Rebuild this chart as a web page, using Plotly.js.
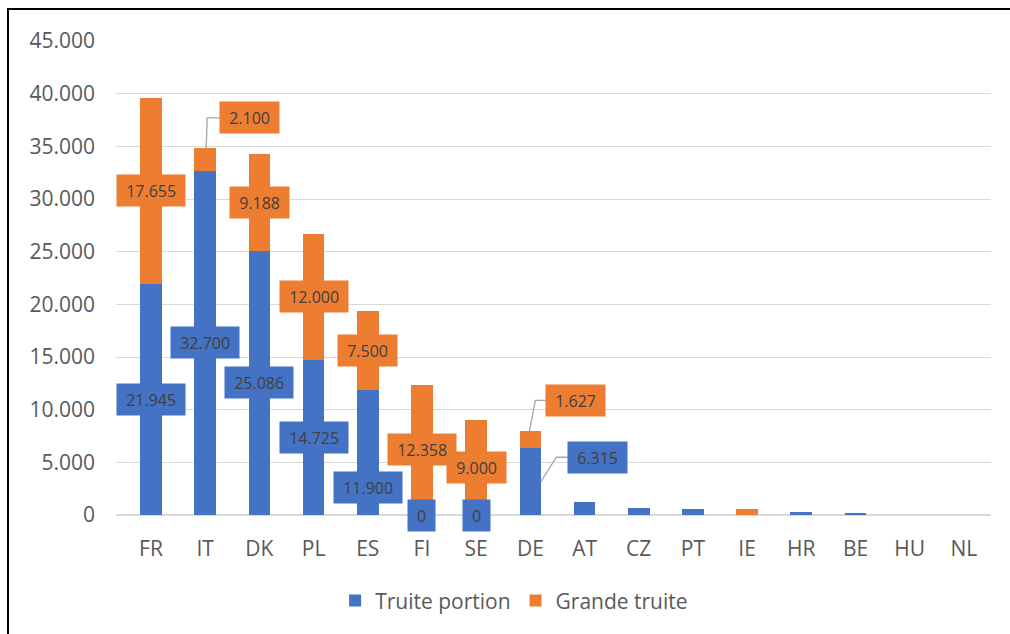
<!DOCTYPE html>
<html>
<head>
<meta charset="utf-8">
<script src="https://cdn.plot.ly/plotly-3.0.1.min.js"></script>
<style>
  html, body { margin: 0; padding: 0; background: #fff; }
  #frame { position: absolute; left: 7px; top: 8px; width: 1100px; height: 700px; border-left: 2px solid #000; border-top: 2px solid #000; pointer-events: none; }
  #chart { position: absolute; left: 0; top: 0; width: 1010px; height: 634px; }
</style>
</head>
<body>
<div id="chart"></div>
<div id="frame"></div>
<script>
// ---- data ----
const countries = ['FR','IT','DK','PL','ES','FI','SE','DE','AT','CZ','PT','IE','HR','BE','HU','NL'];
const truitePortion = [21945, 32700, 25086, 14725, 11900, 0, 0, 6315, 1200, 630, 600, 0, 250, 150, 20, 10];
const grandeTruite  = [17655, 2100, 9188, 12000, 7500, 12358, 9000, 1627, 0, 0, 0, 550, 0, 0, 0, 0];
const labelledCount = 8; // first 8 countries carry data labels

const BLUE = '#4472C4', ORANGE = '#ED7D31', TXT = '#404040';
const FONT = 'Open Sans, Noto Sans, Liberation Sans, sans-serif';
const LABEL_SIZE = 16;

function fmt(v) {
  return Math.round(v).toString().replace(/\B(?=(\d{3})+(?!\d))/g, '.');
}
function textW(s) { // approx width in Open Sans
  let w = 0;
  for (const c of s) w += (c === '.') ? 0.27 : 0.575;
  return w * LABEL_SIZE;
}

const traces = [
  { type: 'bar', name: 'Truite portion', x: countries, y: truitePortion, marker: { color: BLUE }, hoverinfo: 'x+y' },
  { type: 'bar', name: 'Grande truite', x: countries, y: grandeTruite, marker: { color: ORANGE }, hoverinfo: 'x+y' }
];

// label placement rules (pixel offsets) for labels moved away from their default spot
const offsetLabels = {
  'IT|g': { dx: 44, dy: 30.5, path: 'M1,0 L2,30.5 L15,30.5' },
  'DE|g': { dx: 45.5, dy: 31, path: 'M-1,0 L5,31 L16,31' },
  'DE|p': { dx: 67.5, dy: 24.5, path: 'M10.5,0 L26,24.5 L37.5,24.5' },
  'ES|p': { dx: 0, dy: -35, path: null }
};

const annotations = [];
const shapes = [];
function addLabel(cat, yAnchor, yCenter, value, color, key) {
  const txt = fmt(value);
  const off = offsetLabels[key];
  const useAnchor = off && off.path;
  const ann = {
    x: cat, y: useAnchor ? yAnchor : yCenter, xref: 'x', yref: 'y',
    text: txt, showarrow: false,
    font: { family: FONT, size: LABEL_SIZE, color: TXT },
    bgcolor: color, borderpad: 4,
    width: textW(txt) + 10, height: 23,
    xanchor: 'center', yanchor: 'middle'
  };
  if (off) { ann.xshift = off.dx; ann.yshift = off.dy; }
  annotations.push(ann);
  if (useAnchor) {
    shapes.push({
      type: 'path', xref: 'x', yref: 'y', xsizemode: 'pixel', ysizemode: 'pixel',
      xanchor: cat, yanchor: yAnchor, path: off.path,
      line: { color: '#a6a6a6', width: 1.3 }, layer: 'above'
    });
  }
}
// drawn from right to left so that left-hand labels sit on top where boxes touch
for (let i = labelledCount - 1; i >= 0; i--) {
  const c = countries[i], p = truitePortion[i], g = grandeTruite[i];
  addLabel(c, p / 2, p / 2, p, BLUE, c + '|p');
  addLabel(c, p + g, p + g / 2, g, ORANGE, c + '|g');
}

const layout = {
  width: 1010, height: 634,
  margin: { l: 116, r: 19, t: 41, b: 119 },
  paper_bgcolor: '#ffffff', plot_bgcolor: '#ffffff',
  barmode: 'stack', bargap: 0.6,
  separators: ',.',
  font: { family: FONT, size: 21, color: '#595959' },
  xaxis: {
    type: 'category', showgrid: false, ticks: '', showline: false, zeroline: false,
    ticklabelstandoff: 19,
    tickfont: { family: FONT, size: 21, color: '#595959' }
  },
  yaxis: {
    range: [0, 45000], dtick: 5000, tickformat: ',d',
    showgrid: true, gridcolor: '#d9d9d9', gridwidth: 1,
    zeroline: true, zerolinecolor: '#d9d9d9', zerolinewidth: 2,
    showline: false, ticks: '', ticklabelstandoff: 20,
    tickfont: { family: FONT, size: 21, color: '#595959' }
  },
  showlegend: true,
  legend: {
    orientation: 'h', x: 0.455, xanchor: 'center', y: -0.181, yanchor: 'middle',
    font: { family: FONT, size: 21, color: '#595959' },
    traceorder: 'normal', bgcolor: 'rgba(0,0,0,0)'
  },
  annotations: annotations,
  shapes: shapes
};

Plotly.newPlot('chart', traces, layout, { displayModeBar: false, staticPlot: true });
</script>
</body>
</html>
